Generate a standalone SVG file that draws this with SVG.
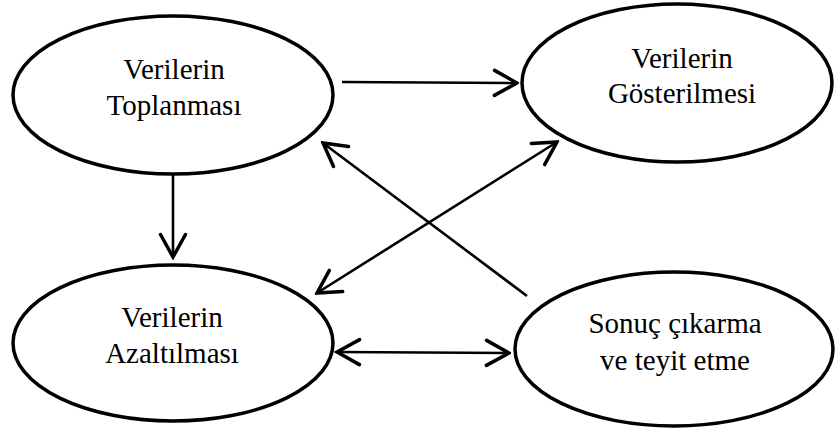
<svg xmlns="http://www.w3.org/2000/svg" width="835" height="433" viewBox="0 0 835 433">
<defs>
<style>
.node ellipse{fill:#fff;stroke:#000;stroke-width:3.5}
.node text{font-family:"Liberation Serif","Times New Roman",serif;font-size:29px;fill:#000;text-anchor:middle}
.edges line{stroke:#000;stroke-width:2.6;fill:none}
</style>
<marker id="ah" markerUnits="userSpaceOnUse" markerWidth="30" markerHeight="30" viewBox="-22 -12 24 24" refX="0" refY="0" orient="auto-start-reverse">
<path d="M-18,-10 L0,0 L-18,10" fill="none" stroke="#000" stroke-width="2.8" stroke-linecap="round" stroke-linejoin="miter"/>
</marker>
</defs>
<rect width="835" height="433" fill="#fff"/>
<g class="edges">
<line x1="342" y1="82" x2="517" y2="83" marker-end="url(#ah)"/>
<line x1="173" y1="174" x2="173" y2="257" marker-end="url(#ah)"/>
<line x1="527" y1="296" x2="323" y2="143" marker-end="url(#ah)"/>
<line x1="317" y1="293" x2="557" y2="142" marker-start="url(#ah)" marker-end="url(#ah)"/>
<line x1="337" y1="352" x2="509" y2="353" marker-start="url(#ah)" marker-end="url(#ah)"/>
</g>
<g id="n1" class="node">
<ellipse cx="173" cy="95" rx="160" ry="79"/>
<text x="174" y="79">Verilerin</text>
<text x="174" y="115">Toplanması</text>
</g>
<g id="n2" class="node">
<ellipse cx="677" cy="83" rx="155" ry="79"/>
<text x="682" y="68">Verilerin</text>
<text x="682" y="103">Gösterilmesi</text>
</g>
<g id="n3" class="node">
<ellipse cx="173" cy="343" rx="160" ry="78"/>
<text x="172" y="327">Verilerin</text>
<text x="172" y="363">Azaltılması</text>
</g>
<g id="n4" class="node">
<ellipse cx="674" cy="349" rx="159" ry="77"/>
<text x="675" y="333">Sonuç çıkarma</text>
<text x="675" y="370">ve teyit etme</text>
</g>
</svg>
